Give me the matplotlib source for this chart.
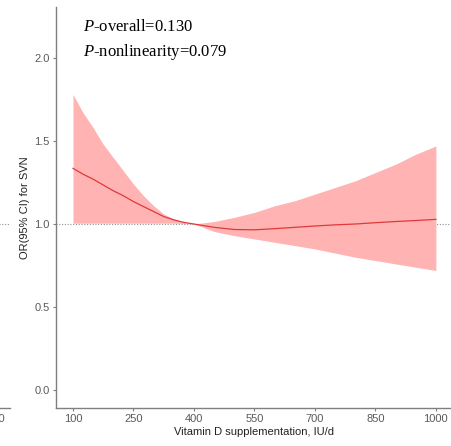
import matplotlib.pyplot as plt

plt.rcParams["mathtext.fontset"] = "custom"
plt.rcParams["mathtext.it"] = "Liberation Serif:italic"
plt.rcParams["mathtext.rm"] = "Liberation Serif"

# vitamin D dose (IU/d) and spline estimates
dose = [100, 125, 150, 175, 200, 225, 250, 275, 300, 325, 350, 375, 400,
        450, 500, 550, 600, 650, 700, 750, 800, 850, 900, 950, 1000]
orEst = [1.335, 1.30, 1.27, 1.235, 1.20, 1.17, 1.135, 1.105, 1.075, 1.045,
         1.025, 1.01, 1.00, 0.98, 0.967, 0.965, 0.972, 0.98, 0.988, 0.995,
         1.00, 1.008, 1.015, 1.021, 1.028]
orUpper = [1.78, 1.67, 1.58, 1.48, 1.40, 1.32, 1.24, 1.17, 1.11, 1.06,
           1.03, 1.01, 1.00, 1.015, 1.04, 1.07, 1.11, 1.14, 1.18, 1.22,
           1.26, 1.31, 1.36, 1.42, 1.47]
orLower = [1.005, 1.005, 1.005, 1.005, 1.005, 1.005, 1.005, 1.005, 1.005,
           1.005, 1.005, 1.003, 1.00, 0.955, 0.93, 0.91, 0.89, 0.87, 0.85,
           0.825, 0.80, 0.78, 0.76, 0.74, 0.72]

xTicks = [100, 250, 400, 550, 700, 850, 1000]
yTicks = [0.0, 0.5, 1.0, 1.5, 2.0]
pOverall = "0.130"
pNonlin = "0.079"

W, H = 452, 446
fig = plt.figure(figsize=(W / 100, H / 100), dpi=100)

grey = "#7f7f7f"
tickGrey = "#5a5a5a"


def styleAx(ax, xt, yt):
    for s in ["top", "right"]:
        ax.spines[s].set_visible(False)
    for s in ["left", "bottom"]:
        ax.spines[s].set_color(grey)
        ax.spines[s].set_linewidth(1.0)
    ax.tick_params(length=2.5, width=0.8, color=grey, labelcolor=tickGrey,
                   labelsize=8, pad=2)
    ax.set_xticks(xt)
    ax.set_yticks(yt)
    ax.set_yticklabels(["{:.1f}".format(v) for v in yt])
    ax.set_ylim(-0.108, 2.307)
    ax.axhline(1.0, color="#909090", linestyle=(0, (1, 1.5)), linewidth=0.8,
               zorder=1)
    for lab in ax.get_xticklabels() + ax.get_yticklabels():
        lab.set_family("Liberation Sans")


# neighbouring panel, mostly outside the crop: only its last x tick shows
ax0 = fig.add_axes([-388 / W, 38 / H, 398 / W, 401 / H])
styleAx(ax0, xTicks[-1:], [])
ax0.set_xlim(57.8, 1044.6)

ax = fig.add_axes([56 / W, 38 / H, 396 / W, 401 / H])
styleAx(ax, xTicks, yTicks)
ax.set_xlim(57.8, 1040)

ax.fill_between(dose, orLower, orUpper, color="#FFB3B3", linewidth=0,
                zorder=2)
ax.plot(dose, orEst, color="#E0393B", linewidth=0.9, zorder=3)

ax.set_xlabel("Vitamin D supplementation, IU/d", fontsize=8,
              family="Liberation Sans", color="#222222", labelpad=2)
ax.set_ylabel("OR(95% CI) for SVN", fontsize=8, family="Liberation Sans",
              color="#222222", labelpad=3)

ax.text(125, 2.16, r"$\mathit{P}$-overall=" + pOverall, fontsize=12,
        family="Liberation Serif", va="baseline")
ax.text(125, 2.01, r"$\mathit{P}$-nonlinearity=" + pNonlin, fontsize=12,
        family="Liberation Serif", va="baseline")

fig.savefig("out.png", dpi=100)
